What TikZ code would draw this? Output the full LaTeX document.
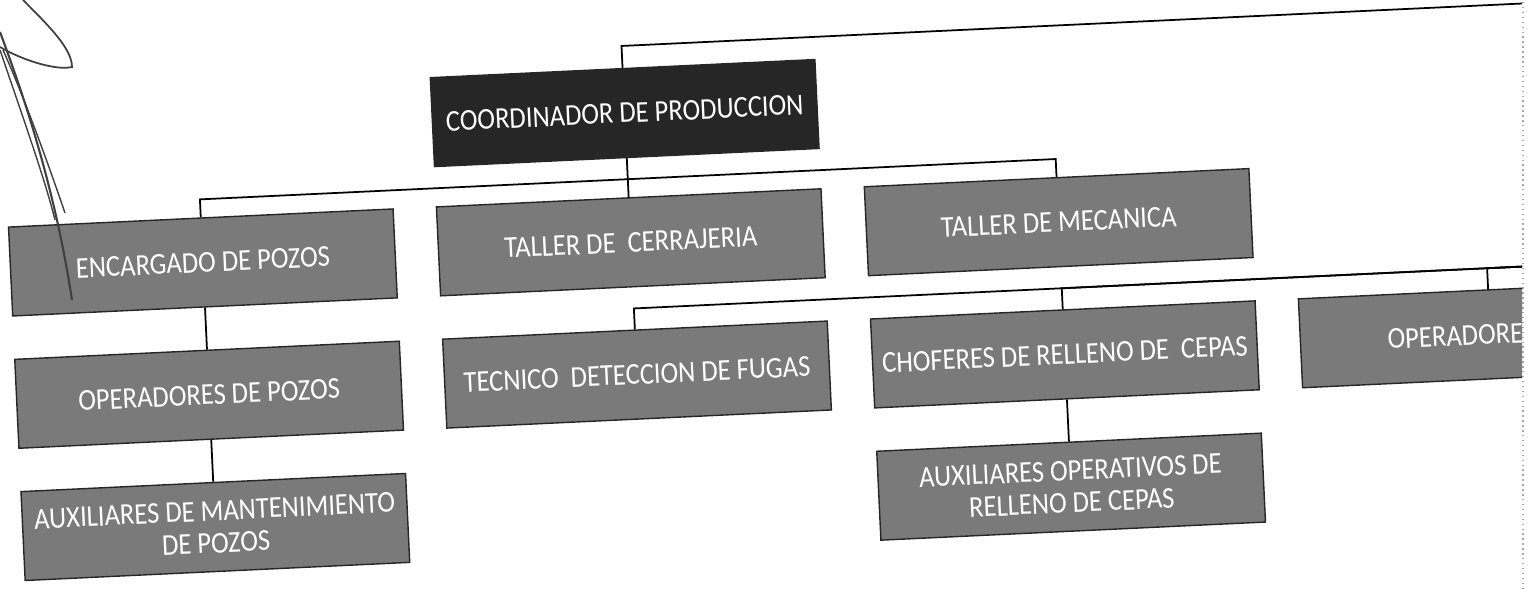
\documentclass[tikz,border=0pt]{standalone}
\usepackage{fontspec}
\newfontfamily\orgfont[FakeStretch=0.88]{Carlito}
\usetikzlibrary{positioning}
\definecolor{cajagris}{gray}{0.48}
\definecolor{cajanegra}{gray}{0.15}

\begin{document}
\begin{tikzpicture}[node distance=4.2mm,
   cargo/.style={draw=black!85,fill=cajagris,text=white,minimum width=3.85cm,
                 minimum height=0.89cm,inner sep=1pt,align=center,
                 font=\orgfont\fontsize{8.6}{9.2}\selectfont},
   link/.style={line width=0.5pt}]
  \useasboundingbox (0,0) rectangle (15.32,5.89);
  % edge of the scanned sheet
  \draw[black!35,densely dotted] (15.23,0) -- (15.23,5.89);
  \begin{scope}
  \clip (0,0) rectangle (15.22,5.89);
  \begin{scope}[rotate around={2.7:(7.66,2.945)},transform shape]
  \node[cargo] (enc) at (2.05,3.53) {ENCARGADO DE POZOS};
  \node[cargo,right=of enc] (cerr) {TALLER DE~ CERRAJERIA};
  \node[cargo,right=of cerr] (mec) {TALLER DE MECANICA};
  \node[cargo,fill=cajanegra,above=3.9mm of cerr] (coord) {COORDINADOR DE PRODUCCION};
  \node[cargo,below=of enc] (opp) {OPERADORES DE POZOS};
  \node[cargo,below=of opp] (auxm) {AUXILIARES DE MANTENIMIENTO\\DE POZOS};
  \node[cargo,below=of cerr] (tec) {TECNICO~ DETECCION DE FUGAS};
  \node[cargo,below=of mec] (cho) {CHOFERES DE RELLENO DE~ CEPAS};
  \node[cargo,below=of cho] (auxo) {AUXILIARES OPERATIVOS DE\\RELLENO DE CEPAS};
  \node[cargo,minimum width=3.1cm,right=of cho] (ope) {OPERADORE};
  % buses
  \coordinate (upper) at ([yshift=2.2mm]coord.north);
  \coordinate (upperend) at ([xshift=10cm]upper);
  \coordinate (midbus) at ([yshift=-2.1mm]coord.south);
  \coordinate (lowbus) at ([yshift=2.1mm]tec.north);
  \coordinate (lowend) at ([xshift=10cm]lowbus);
  \draw[link] (coord.north) |- (upperend);
  \draw[link] (coord.south) -- (cerr.north);
  \draw[link] (enc.north) |- (midbus);
  \draw[link] (mec.north) |- (midbus);
  \draw[link] (tec.north) |- (lowend);
  \draw[link] (cho.north) |- (lowend);
  \draw[link] ([xshift=3.5mm]ope.north) |- (lowend);
  \draw[link] (enc) -- (opp);
  \draw[link] (opp) -- (auxm);
  \draw[link] (cho) -- (auxo);
  \end{scope}
  \end{scope}
  % pen strokes at the top left
  \draw[black!75,line width=0.5pt] (0.23,5.89) .. controls (0.5,5.62) and (0.72,5.40) .. (0.72,5.22)
        .. controls (0.55,5.18) and (0.2,5.3) .. (0,5.42);
  \draw[black!75,line width=0.6pt] (0,5.57) .. controls (0.25,4.9) and (0.55,4.0) .. (0.72,2.89);
  \draw[black!75,line width=0.4pt] (0.03,5.39) .. controls (0.25,4.9) and (0.5,4.2) .. (0.65,3.76);
  \draw[black!75,line width=0.4pt] (0,5.39) .. controls (0.2,4.8) and (0.45,4.1) .. (0.55,3.69);
\end{tikzpicture}
\end{document}
